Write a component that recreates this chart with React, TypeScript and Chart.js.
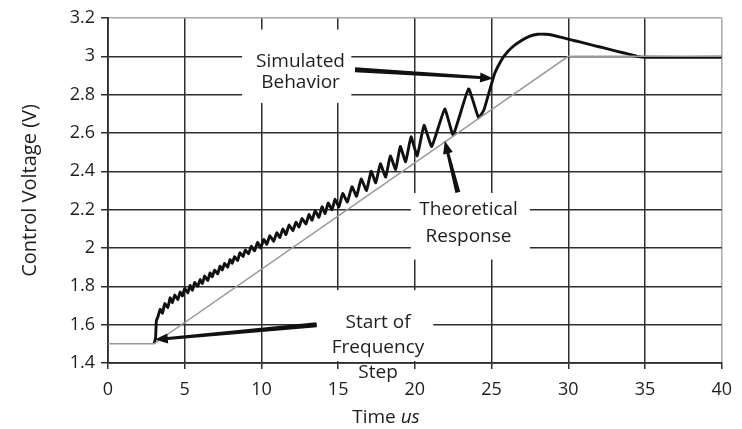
import React, { useEffect, useRef } from "react";
import { Chart, registerables } from "chart.js";
Chart.register(...registerables);

// Theoretical response (thin grey line)
const theoX = [0, 3, 30, 40];
const theoY = [1.5, 1.5, 3.0, 3.0];

// Simulated behaviour (thick black line)
const simX = [
  3.0, 3.1, 3.15, 3.25, 3.4, 3.55, 3.7, 3.9, 4.05, 4.2, 4.35, 4.55, 4.7, 4.85, 5.0, 5.2, 5.35, 5.5, 5.65, 5.85,
  6.0, 6.15, 6.3, 6.5, 6.65, 6.8, 6.95, 7.15, 7.3, 7.45, 7.6, 7.8, 7.95, 8.1, 8.25, 8.45, 8.6, 8.8, 8.95, 9.15,
  9.35, 9.55, 9.75, 9.95, 10.15, 10.35, 10.55, 10.8, 11.0, 11.2, 11.4, 11.6, 11.8, 12.05, 12.25, 12.45, 12.65,
  12.9, 13.1, 13.3, 13.5, 13.75, 13.95, 14.15, 14.35, 14.6, 14.8, 15.05, 15.3, 15.6, 15.9, 16.2, 16.5, 16.85,
  17.15, 17.45, 17.75, 18.1, 18.4, 18.75, 19.05, 19.4, 19.75, 20.15, 20.6, 21.1, 21.95, 22.5, 23.5, 24.15,
  24.5, 24.9, 25.2, 25.5, 25.8, 26.3, 26.9, 27.5, 28.0, 28.5, 29.0, 29.5, 30, 30.5, 31, 31.5, 32, 32.5, 33,
  33.5, 34, 34.5, 35, 40,
];
const simY = [
  1.5, 1.53, 1.62, 1.64, 1.68, 1.66, 1.71, 1.69, 1.74, 1.715, 1.755, 1.73, 1.77, 1.75, 1.79, 1.765, 1.805, 1.78, 1.82, 1.8,
  1.835, 1.815, 1.855, 1.83, 1.87, 1.85, 1.885, 1.865, 1.905, 1.885, 1.92, 1.9, 1.94, 1.92, 1.955, 1.935, 1.975, 1.955, 1.99, 1.97,
  2.01, 1.985, 2.03, 2.0, 2.045, 2.02, 2.065, 2.035, 2.08, 2.055, 2.1, 2.07, 2.12, 2.09, 2.135, 2.11, 2.155,
  2.125, 2.175, 2.145, 2.195, 2.16, 2.215, 2.18, 2.235, 2.2, 2.255, 2.215, 2.285, 2.24, 2.32, 2.27, 2.36, 2.3,
  2.4, 2.34, 2.44, 2.37, 2.48, 2.41, 2.53, 2.45, 2.58, 2.48, 2.64, 2.53, 2.725, 2.59, 2.83, 2.68,
  2.72, 2.83, 2.91, 2.96, 3.0, 3.045, 3.08, 3.105, 3.115, 3.115, 3.11, 3.1, 3.09, 3.08, 3.07, 3.06, 3.05, 3.04, 3.03,
  3.02, 3.01, 3.0, 2.995, 2.995,
];

const xMin = 0, xMax = 40, xStep = 5;
const yMin = 1.4, yMax = 3.2, yStep = 0.2;
const yTitle = "Control Voltage (V)";
const xTitleMain = "Time ";
const xTitleUnit = "us";

// annotation texts (anchor in data units)
const labelTexts = [
  { lines: ["Simulated", "Behavior"], x: 12.55, y: [2.97, 2.865] },
  { lines: ["Theoretical", "Response"], x: 23.5, y: [2.2, 2.06] },
  { lines: ["Start of", "Frequency", "Step"], x: 17.6, y: [1.61, 1.48, 1.35] },
];
const labelBoxes = [
  { x0: 8.74, x1: 15.86, y0: 2.757, y1: 3.14 },
  { x0: 19.74, x1: 27.5, y0: 1.94, y1: 2.287 },
  { x0: 13.6, x1: 21.2, y0: 1.41, y1: 1.78 },
];
const arrows = [
  { x1: 16.1, y1: 2.93, x2: 25.1, y2: 2.885 },
  { x1: 22.8, y1: 2.29, x2: 21.95, y2: 2.56 },
  { x1: 13.6, y1: 1.6, x2: 3.05, y2: 1.522 },
];

const FONT = "'Open Sans', 'DejaVu Sans', sans-serif";

function drawArrow(ctx: CanvasRenderingContext2D, x1: number, y1: number, x2: number, y2: number) {
  const dx = x2 - x1, dy = y2 - y1;
  const len = Math.hypot(dx, dy);
  const ux = dx / len, uy = dy / len;
  const px = -uy, py = ux;
  const headLen = 13, headW = 10, tailW = 5, neckW = 3;
  const bx = x2 - ux * headLen, by = y2 - uy * headLen;
  ctx.beginPath();
  ctx.moveTo(x1 + (px * tailW) / 2, y1 + (py * tailW) / 2);
  ctx.lineTo(bx + (px * neckW) / 2, by + (py * neckW) / 2);
  ctx.lineTo(bx + (px * headW) / 2, by + (py * headW) / 2);
  ctx.lineTo(x2, y2);
  ctx.lineTo(bx - (px * headW) / 2, by - (py * headW) / 2);
  ctx.lineTo(bx - (px * neckW) / 2, by - (py * neckW) / 2);
  ctx.lineTo(x1 - (px * tailW) / 2, y1 - (py * tailW) / 2);
  ctx.closePath();
  ctx.fill();
}

export default function App() {
  const ref = useRef<HTMLCanvasElement>(null);
  useEffect(() => {
    const canvas = ref.current!;
    const annot = {
      id: "annot",
      beforeDatasetsDraw(chart: any) {
        const { ctx, scales } = chart;
        const xs = scales.x, ys = scales.y;
        ctx.save();
        ctx.fillStyle = "#ffffff";
        for (const b of labelBoxes) {
          const l = xs.getPixelForValue(b.x0), r = xs.getPixelForValue(b.x1);
          const t = ys.getPixelForValue(b.y1), bt = ys.getPixelForValue(b.y0);
          ctx.fillRect(l, t, r - l, bt - t);
        }
        ctx.restore();
      },
      afterDatasetsDraw(chart: any) {
        const { ctx, scales } = chart;
        const xs = scales.x, ys = scales.y;
        ctx.save();
        ctx.fillStyle = "#1e1e1e";
        ctx.font = `19px ${FONT}`;
        ctx.textAlign = "center";
        ctx.textBaseline = "middle";
        for (const lt of labelTexts) {
          const cx = xs.getPixelForValue(lt.x);
          lt.lines.forEach((s, i) => ctx.fillText(s, cx, ys.getPixelForValue(lt.y[i])));
        }
        ctx.fillStyle = "#111";
        for (const a of arrows) {
          drawArrow(ctx, xs.getPixelForValue(a.x1), ys.getPixelForValue(a.y1), xs.getPixelForValue(a.x2), ys.getPixelForValue(a.y2));
        }
        // x-axis title: "Time " + italic "us"
        ctx.fillStyle = "#1e1e1e";
        ctx.textAlign = "left";
        ctx.textBaseline = "alphabetic";
        ctx.font = `19px ${FONT}`;
        const w1 = ctx.measureText(xTitleMain).width;
        ctx.font = `italic 19px ${FONT}`;
        const w2 = ctx.measureText(xTitleUnit).width;
        const cx = 386;
        const sx = cx - (w1 + w2) / 2;
        const base = chart.height - 6;
        ctx.font = `19px ${FONT}`;
        ctx.fillText(xTitleMain, sx, base);
        ctx.font = `italic 19px ${FONT}`;
        ctx.fillText(xTitleUnit, sx + w1, base);
        ctx.restore();
      },
    };

    const chart = new Chart(canvas, {
      type: "line",
      data: {
        datasets: [
          {
            label: "Theoretical",
            data: theoX.map((x, i) => ({ x, y: theoY[i] })),
            borderColor: "#9a9a9a",
            borderWidth: 1.5,
            pointRadius: 0,
            tension: 0,
          },
          {
            label: "Simulated",
            data: simX.map((x, i) => ({ x, y: simY[i] })),
            borderColor: "#111111",
            borderWidth: 2.9,
            pointRadius: 0,
            tension: 0.12,
          },
        ],
      },
      options: {
        responsive: false,
        animation: false,
        layout: { padding: { left: 0, right: 16, top: 18, bottom: 0 } },
        plugins: { legend: { display: false }, tooltip: { enabled: false } },
        scales: {
          x: {
            type: "linear",
            min: xMin,
            max: xMax,
            ticks: { stepSize: xStep, color: "#1e1e1e", font: { family: FONT, size: 18 }, padding: 10, maxRotation: 0 },
            grid: {
              color: (c: any) => (c.tick && c.tick.value === xMax ? "#a8a8a8" : "#2e2e2e"),
              tickColor: "#2e2e2e",
              lineWidth: 1.5,
              tickLength: 6,
            },
            border: { color: "#2e2e2e", width: 1.8 },
            afterFit: (s: any) => { s.height = 66; },
          },
          y: {
            min: yMin,
            max: yMax,
            ticks: {
              stepSize: yStep,
              color: "#1e1e1e",
              font: { family: FONT, size: 18 },
              padding: 6,
              callback: (v: any) => String(Number(Number(v).toFixed(1))),
            },
            grid: {
              color: (c: any) => (c.tick && Math.abs(c.tick.value - yMax) < 1e-6 ? "#a8a8a8" : "#2e2e2e"),
              tickColor: "#2e2e2e",
              lineWidth: 1.5,
              tickLength: 7,
            },
            border: { color: "#2e2e2e", width: 1.8 },
            title: { display: true, text: yTitle, color: "#1e1e1e", font: { family: FONT, size: 20 }, padding: { top: 18, bottom: 0 } },
            afterFit: (s: any) => { s.width = 108; },
          },
        },
      },
      plugins: [annot],
    });
    return () => chart.destroy();
  }, []);
  return (
    <div style={{ position: "absolute", left: 0, top: 0, width: 742, height: 429, background: "#fff" }}>
      <canvas ref={ref} width={742} height={429} style={{ width: 742, height: 429, display: "block" }} />
    </div>
  );
}
